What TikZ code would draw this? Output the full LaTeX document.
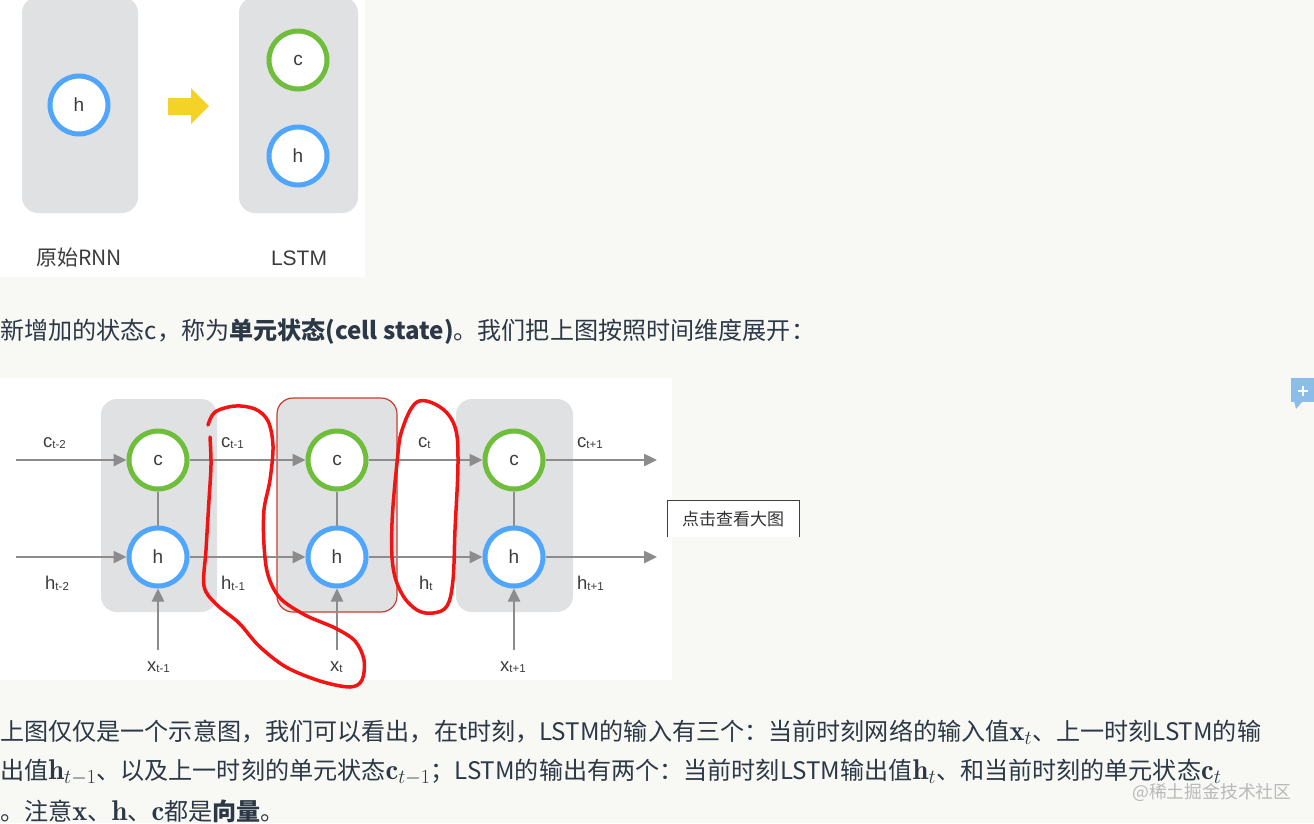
\RequirePackage{fix-cm}
\documentclass[tikz,border=0pt]{standalone}
\usepackage{fontspec}
\newfontfamily\cjk{Noto Sans CJK SC}
\newfontfamily\lsans{Liberation Sans}
\usetikzlibrary{arrows.meta}
\definecolor{pagebg}{RGB}{248,248,245}
\definecolor{boxgray}{RGB}{224,225,227}
\definecolor{hblue}{RGB}{80,166,252}
\definecolor{cgreen}{RGB}{110,190,60}
\definecolor{arrgray}{RGB}{140,140,140}
\definecolor{lblgray}{RGB}{60,60,60}
\definecolor{bodytext}{RGB}{44,56,70}
\definecolor{penred}{RGB}{240,20,20}
\definecolor{boxred}{RGB}{200,60,50}
\definecolor{arrowyellow}{RGB}{245,210,40}
\definecolor{iconblue}{RGB}{140,188,232}
\definecolor{wmgray}{RGB}{185,185,185}
\newcommand{\lblc}[2]{{\fontsize{18.5}{18.5}\selectfont #1}\raisebox{-1.5pt}{\fontsize{11.5}{11.5}\selectfont #2}}
\newcommand{\mth}[1]{{\fontsize{28.5}{28.5}\selectfont$#1$}}
\begin{document}
\begin{tikzpicture}[x=1pt,y=-1pt,
  hnode/.style={circle,draw=hblue,line width=5pt,fill=white,minimum size=58pt,inner sep=0pt,
    font=\lsans\fontsize{19}{19}\selectfont,text=lblgray},
  cnode/.style={hnode,draw=cgreen},
  arr/.style={draw=arrgray,line width=2.5pt,-{Triangle[length=13pt,width=12pt]}},
  link/.style={draw=arrgray,line width=2.5pt},
  lbl/.style={anchor=base west,inner sep=0pt,font=\lsans,text=lblgray},
  body/.style={anchor=base west,inner sep=0pt,text=bodytext,font=\cjk\fontsize{24.1}{24.1}\selectfont},
  pen/.style={draw=penred,line width=3.5pt,line cap=round,line join=round}
]
\useasboundingbox (0,0) rectangle (1314,823);
\fill[pagebg] (0,0) rectangle (1314,823);

% ---------- top image ----------
\fill[white] (0,0) rectangle (365,277);
\fill[boxgray,rounded corners=16pt] (22,-3) rectangle (138,213);
\fill[boxgray,rounded corners=16pt] (239,-3) rectangle (358,213);
\fill[white] (0,-20) rectangle (365,0);
\node[hnode] (h0) at (79,105) {h};
\node[cnode] (cA) at (298,60) {c};
\node[hnode] (hA) at (298,156) {h};
\fill[arrowyellow] (168,98) -- (191,98) -- (191,88) -- (209,106) -- (191,124) -- (191,115) -- (168,115) -- cycle;
\node[font=\cjk\fontsize{21}{21}\selectfont,text=lblgray] (lab1) at (79,258) {原始RNN};
\node[font=\lsans\fontsize{21}{21}\selectfont,text=lblgray] (lab2) at (299,258) {LSTM};

% ---------- body line 1 ----------
\node[body] (p1) at (0,339) {新增加的状态c，称为\textbf{单元状态(cell state)}。我们把上图按照时间维度展开：};

% ---------- unrolled diagram ----------
\fill[white] (0,378) rectangle (672,680);
\fill[boxgray,rounded corners=16pt] (101,399) rectangle (217,612);
\fill[boxgray,rounded corners=16pt] (277,398) rectangle (397,612);
\fill[boxgray,rounded corners=16pt] (456,399) rectangle (573,612);
\draw[boxred,line width=1.2pt,rounded corners=16pt] (277,398) rectangle (397,612);

\node[cnode] (c1) at (158,460) {c};
\node[hnode] (h1) at (158,557) {h};
\node[cnode] (c2) at (337,460) {c};
\node[hnode] (h2) at (337,557) {h};
\node[cnode] (c3) at (514,460) {c};
\node[hnode] (h3) at (514,557) {h};

\coordinate (cin) at (16,460);
\coordinate (hin) at (16,557);
\coordinate (cout) at (657,460);
\coordinate (hout) at (657,557);
\coordinate (x1) at (158,650);
\coordinate (x2) at (337,650);
\coordinate (x3) at (514,650);

\draw[arr] (cin) -- (c1);
\draw[arr] (c1) -- (c2);
\draw[arr] (c2) -- (c3);
\draw[arr] (c3) -- (cout);
\draw[arr] (hin) -- (h1);
\draw[arr] (h1) -- (h2);
\draw[arr] (h2) -- (h3);
\draw[arr] (h3) -- (hout);
\draw[link] (c1) -- (h1);
\draw[link] (c2) -- (h2);
\draw[link] (c3) -- (h3);
\draw[arr] (x1) -- (h1);
\draw[arr] (x2) -- (h2);
\draw[arr] (x3) -- (h3);

\node[lbl] (lc0) at (43,447) {\lblc{c}{t-2}};
\node[lbl] (lc1) at (221,447) {\lblc{c}{t-1}};
\node[lbl] (lc2) at (418,447) {\lblc{c}{t}};
\node[lbl] (lc3) at (577,447) {\lblc{c}{t+1}};
\node[lbl] (lh0) at (45,589) {\lblc{h}{t-2}};
\node[lbl] (lh1) at (221,589) {\lblc{h}{t-1}};
\node[lbl] (lh2) at (419,589) {\lblc{h}{t}};
\node[lbl] (lh3) at (577,589) {\lblc{h}{t+1}};
\node[lbl] (lx1) at (147,671) {\lblc{x}{t-1}};
\node[lbl] (lx2) at (330,671) {\lblc{x}{t}};
\node[lbl] (lx3) at (500,671) {\lblc{x}{t+1}};

% red freehand marks
\draw[pen] plot[smooth,tension=0.55] coordinates {
 (208,425) (215,412) (235,406) (255,409) (268,421) (273,446) (270,480) (264,510)
 (264,545) (268,575) (280,598) (305,615) (335,628) (355,641) (364,660) (362,680)
 (350,687) (320,681) (286,667) (259,646) (239,623) (216,604) (204,586) (206,550)
 (209,500) (211,465) (210,437)};
\draw[pen] plot[smooth cycle,tension=0.6] coordinates {
 (417,402) (440,407) (455,427) (458,463) (455,530) (453,580) (447,606) (433,613)
 (417,610) (402,594) (393,567) (392,523) (397,463) (402,430)};

% "view large image" tooltip
\fill[white] (667,500) rectangle (799,537);
\draw[black!75,line width=1pt] (667,537) -- (667,500) -- (799,500) -- (799,537);
\node[font=\cjk\fontsize{17}{17}\selectfont,text=black!80] (tip) at (733,519) {点击查看大图};

% side icon
\fill[iconblue] (1291,378) rectangle (1314,402);
\fill[iconblue] (1294,401) -- (1303,401) -- (1296,409) -- cycle;
\draw[white,line width=1.6pt] (1298,391) -- (1308,391) (1303,386) -- (1303,396);

% ---------- body paragraph ----------
\node[body] (p2) at (0,740) {上图仅仅是一个示意图，我们可以看出，在t时刻，LSTM的输入有三个：当前时刻网络的输入值\mth{\mathbf{x}_t}、上一时刻LSTM的输};
\node[body] (p3) at (0,779) {出值\mth{\mathbf{h}_{t-1}}、以及上一时刻的单元状态\mth{\mathbf{c}_{t-1}}；LSTM的输出有两个：当前时刻LSTM输出值\mth{\mathbf{h}_t}、和当前时刻的单元状态\mth{\mathbf{c}_t}};
\node[body] (p4) at (0,820) {。注意\mth{\mathbf{x}}、\mth{\mathbf{h}}、\mth{\mathbf{c}}都是\textbf{向量}。};

\node[anchor=base west,inner sep=0pt,font=\cjk\fontsize{17.8}{17.8}\selectfont,text=wmgray] (wm) at (1132,798) {@稀土掘金技术社区};
\end{tikzpicture}
\end{document}
